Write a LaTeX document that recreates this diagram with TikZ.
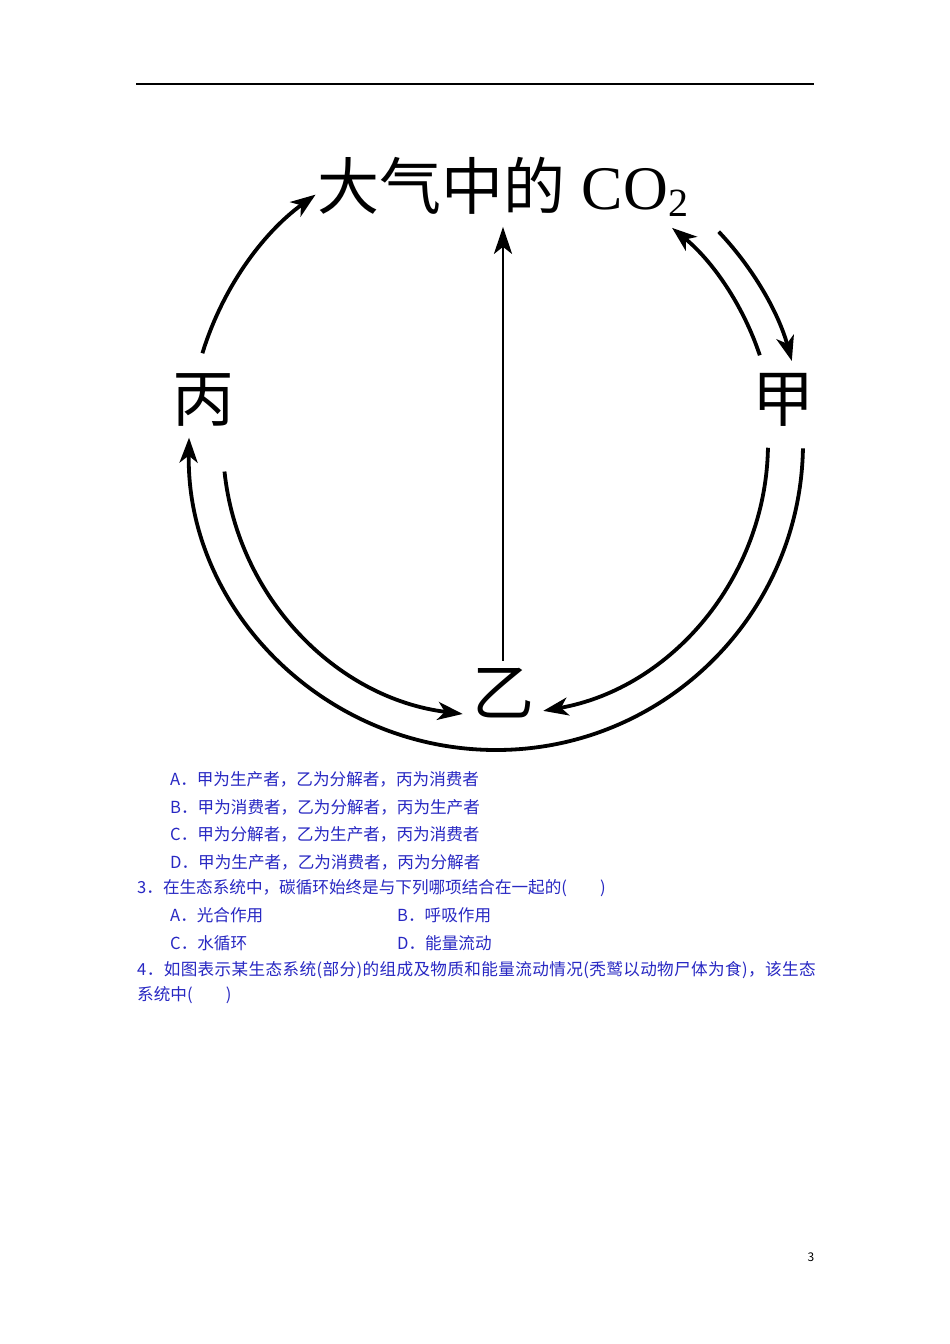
\documentclass[tikz,border=0pt]{standalone}
\usepackage{fontspec}
\setmainfont{Noto Sans CJK SC}
\newfontfamily\latinserif{Liberation Serif}
\newfontfamily\cjkspread{Noto Sans CJK SC}[LetterSpace=2.3]
\usetikzlibrary{calc,arrows.meta}
\definecolor{qblue}{RGB}{40,40,195}
\tikzset{
	flow/.style={line width=3.8pt, -{Stealth[length=25pt,width=18pt,inset=7pt]}},
	stem/.style={line width=2.8pt, -{Stealth[length=27pt,width=18pt,inset=7pt]}},
	bigchar/.style={inner sep=0pt, font=\fontsize{62}{62}\selectfont},
	qtext/.style={anchor=west, inner sep=0pt, text=qblue, font=\fontsize{16.6}{20}\selectfont},
}
\def\cyclearc#1#2#3#4{\draw[#1] ($(O)+(#2:#4)$) arc[start angle=#2, end angle=#3, radius=#4];}

\begin{document}
\begin{tikzpicture}[x=1pt,y=1pt]
			%%%%% START %%%%%
			
			\fill[white] (0,0) rectangle (950,-1344);
			\useasboundingbox (0,0) rectangle (950,-1344);
			
			\draw[line width=1.6pt] (136,-84) -- (814,-84);
			
			\coordinate (O) at (496,-443);
			
			\node[bigchar] (co2) at (503,-187) {大气中的\hspace{16pt}{\latinserif CO\raisebox{-7pt}{\fontsize{40}{40}\selectfont 2}}};
			\node[bigchar] (bing) at (203,-400) {丙};
			\node[bigchar] (jia) at (783,-400) {甲};
			\node[bigchar] (yi) at (503,-693) {乙};
			
			\draw[stem, shorten <=7pt, shorten >=10pt] (yi.north) -- (co2.south);
			
			\cyclearc{flow}{163}{126}{307}
			\cyclearc{flow}{43.5}{15.5}{307}
			\cyclearc{flow}{18.4}{50.7}{278}
			\cyclearc{flow}{186}{263}{273}
			\cyclearc{flow}{-1}{-80}{272}
			\cyclearc{flow}{-1}{-181}{307}
			
			\node[qtext] (optA) at (170,-779) {A．甲为生产者，乙为分解者，丙为消费者};
			\node[qtext] (optB) at (170,-807) {B．甲为消费者，乙为分解者，丙为生产者};
			\node[qtext] (optC) at (170,-834) {C．甲为分解者，乙为生产者，丙为消费者};
			\node[qtext] (optD) at (170,-862) {D．甲为生产者，乙为消费者，丙为分解者};
			
			\node[qtext] (qthree) at (137,-888) {3．在生态系统中，碳循环始终是与下列哪项结合在一起的(　　)};
			\node[qtext] (qthreeA) at (170,-915) {A．光合作用};
			\node[qtext] (qthreeB) at (397,-915) {B．呼吸作用};
			\node[qtext] (qthreeC) at (170,-943) {C．水循环};
			\node[qtext] (qthreeD) at (397,-943) {D．能量流动};
			
			\node[qtext, font=\cjkspread\fontsize{16.6}{20}\selectfont] (qfour) at (137,-970) {4．如图表示某生态系统(部分)的组成及物质和能量流动情况(秃鹫以动物尸体为食)，该生态};
			\node[qtext] (qfourtail) at (137,-995) {系统中(　　)};
			
			\node[inner sep=0pt, font=\fontsize{12}{12}\selectfont] (pageno) at (811,-1257) {3};
			
			%%%%% END %%%%%
\end{tikzpicture}
\end{document}
